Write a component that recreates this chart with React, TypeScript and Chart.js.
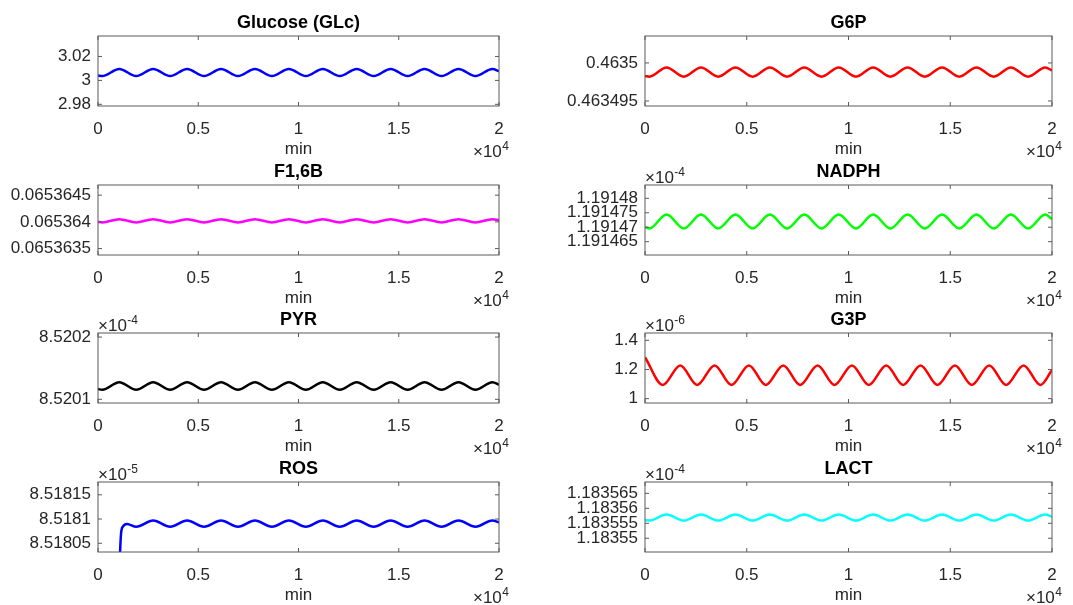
import React, { useEffect, useRef } from 'react';
import { Chart, registerables } from 'chart.js';

Chart.register(...registerables);

const FONT = '"Liberation Sans", Arial, Helvetica, sans-serif';
const TEXT = '#262626';
const TICK_SIZE = 17;

// ---- x axis (min) ----
const xTickValues = [0, 5000, 10000, 15000, 20000];
const xTickLabels = ['0', '0.5', '1', '1.5', '2'];

// ---- common time points (start, trough, peak, trough, ..., peak, end) ----
const timeOsc = [0, 214, 1060, 1906, 2752, 3598, 4444, 5290, 6136, 6982, 7828, 8674, 9520, 10366, 11212, 12058, 12904, 13750, 14596, 15442, 16288, 17134, 17980, 18826, 19672, 20000];

const glucose = [3.0040,
  3.0036, 3.0095, 3.0036, 3.0095, 3.0036, 3.0095, 3.0036, 3.0095, 3.0036, 3.0095, 3.0036, 3.0095,
  3.0036, 3.0095, 3.0036, 3.0095, 3.0036, 3.0095, 3.0036, 3.0095, 3.0036, 3.0095, 3.0036, 3.0095,
  3.0076];

const g6p = [0.4634983,
  0.4634982, 0.4634994, 0.4634982, 0.4634994, 0.4634982, 0.4634994, 0.4634982, 0.4634994, 0.4634982, 0.4634994, 0.4634982, 0.4634994,
  0.4634982, 0.4634994, 0.4634982, 0.4634994, 0.4634982, 0.4634994, 0.4634982, 0.4634994, 0.4634982, 0.4634994, 0.4634982, 0.4634994,
  0.4634990];

const f16b = [0.06536400,
  0.06536399, 0.06536405, 0.06536399, 0.06536405, 0.06536399, 0.06536405, 0.06536399, 0.06536405, 0.06536399, 0.06536405, 0.06536399, 0.06536405,
  0.06536399, 0.06536405, 0.06536399, 0.06536405, 0.06536399, 0.06536405, 0.06536399, 0.06536405, 0.06536399, 0.06536405, 0.06536399, 0.06536405,
  0.06536403];

// x 1e-4
const nadph = [1.1914701,
  1.1914696, 1.1914744, 1.1914696, 1.1914744, 1.1914696, 1.1914744, 1.1914696, 1.1914744, 1.1914696, 1.1914744, 1.1914696, 1.1914744,
  1.1914696, 1.1914744, 1.1914696, 1.1914744, 1.1914696, 1.1914744, 1.1914696, 1.1914744, 1.1914696, 1.1914744, 1.1914696, 1.1914744,
  1.1914728];

// x 1e-4
const pyr = [8.5201165,
  8.5201153, 8.5201274, 8.5201153, 8.5201274, 8.5201153, 8.5201274, 8.5201153, 8.5201274, 8.5201153, 8.5201274, 8.5201153, 8.5201274,
  8.5201153, 8.5201274, 8.5201153, 8.5201274, 8.5201153, 8.5201274, 8.5201153, 8.5201274, 8.5201153, 8.5201274, 8.5201153, 8.5201274,
  8.5201234];

// x 1e-4
const lact = [1.1835561,
  1.1835559, 1.1835579, 1.1835559, 1.1835579, 1.1835559, 1.1835579, 1.1835559, 1.1835579, 1.1835559, 1.1835579, 1.1835559, 1.1835579,
  1.1835559, 1.1835579, 1.1835559, 1.1835579, 1.1835559, 1.1835579, 1.1835559, 1.1835579, 1.1835559, 1.1835579, 1.1835559, 1.1835579,
  1.1835572];

// ---- G3P (x 1e-6): start, trough, peak, ..., trough, end ----
const timeG3P = [0, 875, 1734, 2562, 3421, 4249, 5108, 5936, 6795, 7623, 8482, 9310, 10169, 10997, 11856, 12684, 13543, 14371, 15230, 16058, 16917, 17745, 18604, 19432, 20000];
const g3p = [1.284,
  1.094, 1.228, 1.094, 1.228, 1.094, 1.228, 1.094, 1.228, 1.094, 1.228, 1.094,
  1.228, 1.094, 1.228, 1.094, 1.228, 1.094, 1.228, 1.094, 1.228, 1.094, 1.228, 1.094,
  1.196];

// ---- ROS (x 1e-5): rises from far below, then oscillates ----
const timeROS = [0, 1040, 1100, 1150, 1250, 1445, 1906, 2752, 3598, 4444, 5290, 6136, 6982, 7828, 8674, 9520, 10366, 11212, 12058, 12904, 13750, 14596, 15442, 16288, 17134, 17980, 18826, 19672, 20000];
const ros = [8.5175, 8.51795, 8.51803, 8.51807, 8.518085, 8.518090, 8.518084,
  8.518097, 8.518084, 8.518097, 8.518084, 8.518097, 8.518084, 8.518097, 8.518084, 8.518097, 8.518084,
  8.518097, 8.518084, 8.518097, 8.518084, 8.518097, 8.518084, 8.518097, 8.518084, 8.518097, 8.518084,
  8.518097, 8.518093];

// ---- y ticks ----
const glcTicks = [2.98, 3, 3.02];
const glcTickLabels = ['2.98', '3', '3.02'];
const g6pTicks = [0.463495, 0.4635];
const g6pTickLabels = ['0.463495', '0.4635'];
const f16bTicks = [0.0653635, 0.065364, 0.0653645];
const f16bTickLabels = ['0.0653635', '0.065364', '0.0653645'];
const nadphTicks = [1.191465, 1.19147, 1.191475, 1.19148];
const nadphTickLabels = ['1.191465', '1.19147', '1.191475', '1.19148'];
const pyrTicks = [8.5201, 8.5202];
const pyrTickLabels = ['8.5201', '8.5202'];
const g3pTicks = [1, 1.2, 1.4];
const g3pTickLabels = ['1', '1.2', '1.4'];
const rosTicks = [8.51805, 8.5181, 8.51815];
const rosTickLabels = ['8.51805', '8.5181', '8.51815'];
const lactTicks = [1.18355, 1.183555, 1.18356, 1.183565];
const lactTickLabels = ['1.18355', '1.183555', '1.18356', '1.183565'];

type Panel = {
  title: string; col: number; row: number; t: number[]; y: number[]; color: string;
  min: number; max: number; ticks: number[]; labels: string[]; exp: string | null;
};

const panels: Panel[] = [
  { title: 'Glucose (GLc)', col: 0, row: 0, t: timeOsc, y: glucose, color: '#0000ff', min: 2.9786, max: 3.0371, ticks: glcTicks, labels: glcTickLabels, exp: null },
  { title: 'G6P', col: 1, row: 0, t: timeOsc, y: g6p, color: '#ff0000', min: 0.46349434, max: 0.46350354, ticks: g6pTicks, labels: g6pTickLabels, exp: null },
  { title: 'F1,6B', col: 0, row: 1, t: timeOsc, y: f16b, color: '#ff00ff', min: 0.06536338, max: 0.06536469, ticks: f16bTicks, labels: f16bTickLabels, exp: null },
  { title: 'NADPH', col: 1, row: 1, t: timeOsc, y: nadph, color: '#00ff00', min: 1.1914604, max: 1.1914846, ticks: nadphTicks, labels: nadphTickLabels, exp: '-4' },
  { title: 'PYR', col: 0, row: 2, t: timeOsc, y: pyr, color: '#000000', min: 8.5200941, max: 8.5202065, ticks: pyrTicks, labels: pyrTickLabels, exp: '-4' },
  { title: 'G3P', col: 1, row: 2, t: timeG3P, y: g3p, color: '#ff0000', min: 0.97, max: 1.45, ticks: g3pTicks, labels: g3pTickLabels, exp: '-6' },
  { title: 'ROS', col: 0, row: 3, t: timeROS, y: ros, color: '#0000ff', min: 8.518032, max: 8.5181764, ticks: rosTicks, labels: rosTickLabels, exp: '-5' },
  { title: 'LACT', col: 1, row: 3, t: timeOsc, y: lact, color: '#00ffff', min: 1.1835454, max: 1.1835688, ticks: lactTicks, labels: lactTickLabels, exp: '-4' },
];

// ---- layout ----
const COL_LEFT = [98, 645];
const COL_WIDTH = [401, 407];
const ROW_TOP = [36, 185, 333, 482];
const BOX_H = 70;
const PAD_L = 100, PAD_T = 45, PAD_R = 25, PAD_B = 62;

function drawPow(ctx: CanvasRenderingContext2D, exp: string, x: number, baseline: number, align: 'left' | 'right') {
  ctx.fillStyle = TEXT;
  ctx.textBaseline = 'alphabetic';
  ctx.textAlign = 'left';
  const mainFont = `${TICK_SIZE}px ${FONT}`;
  const expFont = `12px ${FONT}`;
  ctx.font = mainFont;
  const wMain = ctx.measureText('\u00d710').width;
  ctx.font = expFont;
  const wExp = ctx.measureText(exp).width;
  const start = align === 'left' ? x : x - wMain - wExp - 0.5;
  ctx.font = mainFont;
  ctx.fillText('\u00d710', start, baseline);
  ctx.font = expFont;
  ctx.fillText(exp, start + wMain + 0.5, baseline - 7);
}

function makeAxesPlugin(panel: Panel) {
  return {
    id: 'matlabAxes',
    afterDatasetsDraw(chart: any) {
      const { ctx, chartArea: a, scales } = chart;
      ctx.save();
      ctx.strokeStyle = '#5a5a5a';
      ctx.lineWidth = 1;
      ctx.strokeRect(a.left, a.top, a.right - a.left, a.bottom - a.top);
      const tl = 4;
      ctx.beginPath();
      for (const v of xTickValues) {
        const x = scales.x.getPixelForValue(v);
        ctx.moveTo(x, a.bottom); ctx.lineTo(x, a.bottom - tl);
        ctx.moveTo(x, a.top); ctx.lineTo(x, a.top + tl);
      }
      for (const v of panel.ticks) {
        const y = scales.y.getPixelForValue(v);
        ctx.moveTo(a.left, y); ctx.lineTo(a.left + tl, y);
        ctx.moveTo(a.right, y); ctx.lineTo(a.right - tl, y);
      }
      ctx.stroke();

      const cx = (a.left + a.right) / 2;
      ctx.fillStyle = '#000';
      ctx.font = `bold 18px ${FONT}`;
      ctx.textAlign = 'center';
      ctx.textBaseline = 'alphabetic';
      ctx.fillText(panel.title, cx, a.top - 8);

      ctx.fillStyle = TEXT;
      ctx.font = `${TICK_SIZE}px ${FONT}`;
      ctx.fillText('min', cx, a.bottom + 48);

      drawPow(ctx, '4', a.right + 10, a.bottom + 51, 'right');
      if (panel.exp) drawPow(ctx, panel.exp, a.left, a.top - 2.5, 'left');
      ctx.restore();
    },
  };
}

function Subplot({ panel }: { panel: Panel }) {
  const ref = useRef<HTMLCanvasElement | null>(null);
  const w = PAD_L + COL_WIDTH[panel.col] + PAD_R;
  const h = PAD_T + BOX_H + PAD_B;
  const left = COL_LEFT[panel.col] - PAD_L;
  const top = ROW_TOP[panel.row] - PAD_T;

  useEffect(() => {
    if (!ref.current) return;
    const chart = new Chart(ref.current, {
      type: 'line',
      data: {
        datasets: [{
          data: panel.t.map((t, i) => ({ x: t, y: panel.y[i] })),
          borderColor: panel.color,
          backgroundColor: panel.color,
          borderWidth: 2.5,
          pointRadius: 0,
          fill: false,
          cubicInterpolationMode: 'monotone',
          clip: 0,
        }],
      },
      options: {
        animation: false,
        responsive: false,
        maintainAspectRatio: false,
        devicePixelRatio: 1,
        events: [],
        layout: { padding: { left: 0, top: PAD_T, right: PAD_R, bottom: 0 } },
        plugins: { legend: { display: false }, tooltip: { enabled: false }, title: { display: false } },
        scales: {
          x: {
            type: 'linear', min: 0, max: 20000, bounds: 'data',
            grid: { display: false, drawTicks: false },
            border: { display: false },
            afterBuildTicks: (s: any) => { s.ticks = xTickValues.map((v) => ({ value: v })); },
            afterFit: (s: any) => { s.height = PAD_B; },
            ticks: {
              autoSkip: false, maxRotation: 0, padding: 13, color: TEXT,
              font: { family: FONT, size: TICK_SIZE },
              callback: (_v: any, i: number) => xTickLabels[i],
            },
          },
          y: {
            type: 'linear', min: panel.min, max: panel.max, bounds: 'data',
            grid: { display: false, drawTicks: false },
            border: { display: false },
            afterBuildTicks: (s: any) => { s.ticks = panel.ticks.map((v) => ({ value: v })); },
            afterFit: (s: any) => { s.width = PAD_L; },
            ticks: {
              autoSkip: false, padding: 7, color: TEXT,
              font: { family: FONT, size: TICK_SIZE },
              callback: (_v: any, i: number) => panel.labels[i],
            },
          },
        },
      },
      plugins: [makeAxesPlugin(panel)],
    } as any);
    return () => chart.destroy();
  }, [panel]);

  return (
    <canvas
      ref={ref}
      width={w}
      height={h}
      style={{ position: 'absolute', left, top, width: w, height: h }}
    />
  );
}

export default function App() {
  return (
    <div style={{ position: 'absolute', left: 0, top: 0, width: 1073, height: 605, background: '#fff', overflow: 'hidden' }}>
      {panels.map((p) => <Subplot key={p.title} panel={p} />)}
    </div>
  );
}
